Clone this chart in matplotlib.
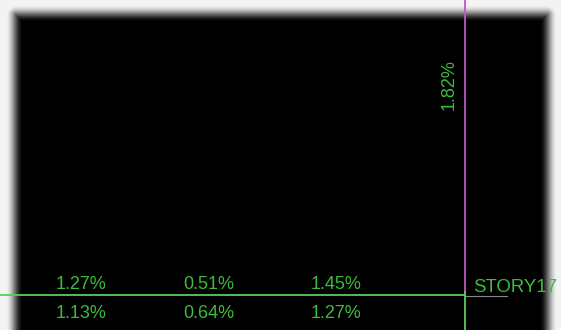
import numpy as np
import matplotlib.pyplot as plt

plt.rcParams.update({
    "font.family": ["Liberation Sans", "DejaVu Sans"],
    "font.size": 13,
})

# drift values per column (upper row above the story line, lower row below it)
columns = [0, 1, 2]
upper_drift = ["1.27%", "0.51%", "1.45%"]
lower_drift = ["1.13%", "0.64%", "1.27%"]
story_label = "STORY17"
column_drift = "1.82%"

W, H = 561, 330
green_txt = "#3abd3a"
green_ln = "#5ccc5c"
magenta = "#c455c4"

fig = plt.figure(figsize=(W / 100, H / 100), dpi=100)
ax = fig.add_axes([0, 0, 1, 1])
ax.set_xlim(0, W)
ax.set_ylim(H, 0)
ax.axis("off")

# black drawing area with a soft shadowy border
yy, xx = np.mgrid[0:H, 0:W] + 0.5
x0, x1, y0, y1 = 16, 547, 15, 420
dx = np.maximum(np.maximum(x0 - xx, xx - x1), 0)
dy = np.maximum(np.maximum(y0 - yy, yy - y1), 0)
d = np.hypot(dx, dy)
inside = np.minimum(np.minimum(xx - x0, x1 - xx), np.minimum(yy - y0, y1 - yy))
sd = np.where(d > 0, d, -np.maximum(inside, 0))
t = np.clip((sd + 7) / 17, 0, 1)
shade = 0.95 * (t * t * (3 - 2 * t))
ax.imshow(shade, cmap="gray", vmin=0, vmax=1, extent=(0, W, H, 0),
          interpolation="bilinear", zorder=0)

# grid lines
col_x = 81 + 127.5 * np.array(columns)
story_y = 294.5
axis_x = 465.5
ax.plot([0, axis_x], [story_y, story_y], color=green_ln, lw=1.3, zorder=2)
ax.plot([axis_x, 507], [story_y + 1, story_y + 1], color="#8a8a8a", lw=0.8, zorder=2)
ax.plot([axis_x, axis_x], [0, 292], color=magenta, lw=1.3, zorder=2)
ax.plot([axis_x, axis_x], [292, H], color=green_ln, lw=1.3, zorder=2)

for x, u, l in zip(col_x, upper_drift, lower_drift):
    ax.text(x, 284.5, u, color=green_txt, ha="center", va="center")
    ax.text(x, 313.5, l, color=green_txt, ha="center", va="center")

ax.text(473, 288, story_label, color=green_txt, ha="left", va="center",
        fontsize=13.4)
ax.text(449, 85, column_drift, color=green_txt, ha="center", va="center",
        rotation=90)

fig.savefig("out.png", dpi=100)
